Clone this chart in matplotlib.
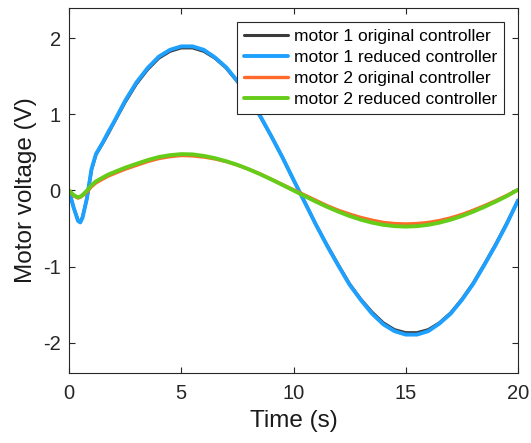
import numpy as np
import matplotlib
matplotlib.use("Agg")
import matplotlib.pyplot as plt

plt.rcParams["font.family"] = ["Liberation Sans", "DejaVu Sans"]
plt.rcParams["axes.unicode_minus"] = False

# time samples (s)
t = [0, 0.2, 0.4, 0.5, 0.6, 0.8, 1.0, 1.2, 1.5, 1.75, 2.0, 2.5, 3.0, 3.5, 4.0,
     4.5, 5.0, 5.5, 6.0, 6.5, 7.0, 7.5, 8.0, 8.5, 9.0, 9.5, 10.0, 10.5, 11.0,
     11.5, 12.0, 12.5, 13.0, 13.5, 14.0, 14.5, 15.0, 15.5, 16.0, 16.5, 17.0,
     17.5, 18.0, 18.5, 19.0, 19.5, 20.0]

# motor voltages (V)
m1_original = [0, -0.22, -0.39, -0.41, -0.35, -0.1, 0.27, 0.47, 0.62, 0.75,
               0.89, 1.16, 1.40, 1.59, 1.74, 1.83, 1.875, 1.875, 1.83, 1.74,
               1.61, 1.43, 1.22, 0.98, 0.72, 0.44, 0.14, -0.15, -0.45, -0.72,
               -0.98, -1.23, -1.43, -1.60, -1.74, -1.83, -1.87, -1.87, -1.83,
               -1.74, -1.61, -1.43, -1.22, -0.97, -0.71, -0.43, -0.13]
m1_reduced = [0, -0.22, -0.40, -0.42, -0.36, -0.1, 0.28, 0.48, 0.63, 0.77,
              0.90, 1.18, 1.42, 1.61, 1.76, 1.85, 1.895, 1.895, 1.85, 1.75,
              1.62, 1.44, 1.23, 0.99, 0.72, 0.44, 0.14, -0.155, -0.45, -0.73,
              -0.99, -1.24, -1.44, -1.62, -1.76, -1.85, -1.895, -1.895, -1.85,
              -1.75, -1.62, -1.44, -1.23, -0.98, -0.72, -0.44, -0.13]
m2_original = [0, -0.07, -0.10, -0.09, -0.07, -0.02, 0.05, 0.10, 0.15, 0.19,
               0.22, 0.28, 0.33, 0.38, 0.42, 0.445, 0.46, 0.455, 0.44, 0.415,
               0.38, 0.335, 0.28, 0.22, 0.15, 0.08, 0.01, -0.06, -0.13,
               -0.20, -0.26, -0.31, -0.355, -0.39, -0.42, -0.435, -0.44,
               -0.435, -0.42, -0.395, -0.36, -0.315, -0.26, -0.2, -0.135,
               -0.065, 0.01]
m2_reduced = [0, -0.06, -0.09, -0.08, -0.06, 0.0, 0.07, 0.12, 0.17, 0.21,
              0.24, 0.30, 0.35, 0.40, 0.44, 0.465, 0.478, 0.475, 0.455, 0.425,
              0.385, 0.337, 0.28, 0.216, 0.147, 0.074, 0.0, -0.074, -0.147,
              -0.216, -0.279, -0.336, -0.384, -0.423, -0.452, -0.469, -0.475,
              -0.469, -0.452, -0.423, -0.384, -0.336, -0.279, -0.216, -0.147,
              -0.074, 0.01]

labels = ["motor 1 original controller", "motor 1 reduced controller",
          "motor 2 original controller", "motor 2 reduced controller"]
colors = ["#3a3a3a", "#1ea0ff", "#ff6a2a", "#66cc1a"]
widths = [2.2, 2.8, 2.4, 2.8]

fig = plt.figure(figsize=(5.31, 4.43), dpi=100)
ax = fig.add_axes([0.130, 0.158, 0.8455, 0.824])

series = [m1_original, m1_reduced, m2_original, m2_reduced]
for y, lab, c, lw in zip(series, labels, colors, widths):
    ax.plot(t, y, color=c, lw=lw, label=lab, solid_capstyle="round")

ax.set_xlim(0, 20)
ax.set_ylim(-2.4, 2.4)
ax.set_xticks([0, 5, 10, 15, 20])
ax.set_yticks([-2, -1, 0, 1, 2])
ax.tick_params(direction="in", length=4, width=0.8, top=True, right=True,
               labelsize=14.5, colors="#262626")
ax.tick_params(axis="x", pad=8)
ax.tick_params(axis="y", pad=6)
for s in ax.spines.values():
    s.set_color("#262626")
    s.set_linewidth(0.8)

ax.set_xlabel("Time (s)", fontsize=17.5, color="#1a1a1a", labelpad=5)
ax.set_ylabel("Motor voltage (V)", fontsize=17.5, color="#1a1a1a", labelpad=4)

leg = ax.legend(loc="upper right", fontsize=12.5, fancybox=False,
                framealpha=1, edgecolor="#262626", handlelength=2.5,
                handletextpad=0.35, labelspacing=0.33, borderpad=0.4,
                borderaxespad=0.8)
leg.get_frame().set_linewidth(0.8)

fig.savefig("out.png", dpi=100)
plt.close(fig)
